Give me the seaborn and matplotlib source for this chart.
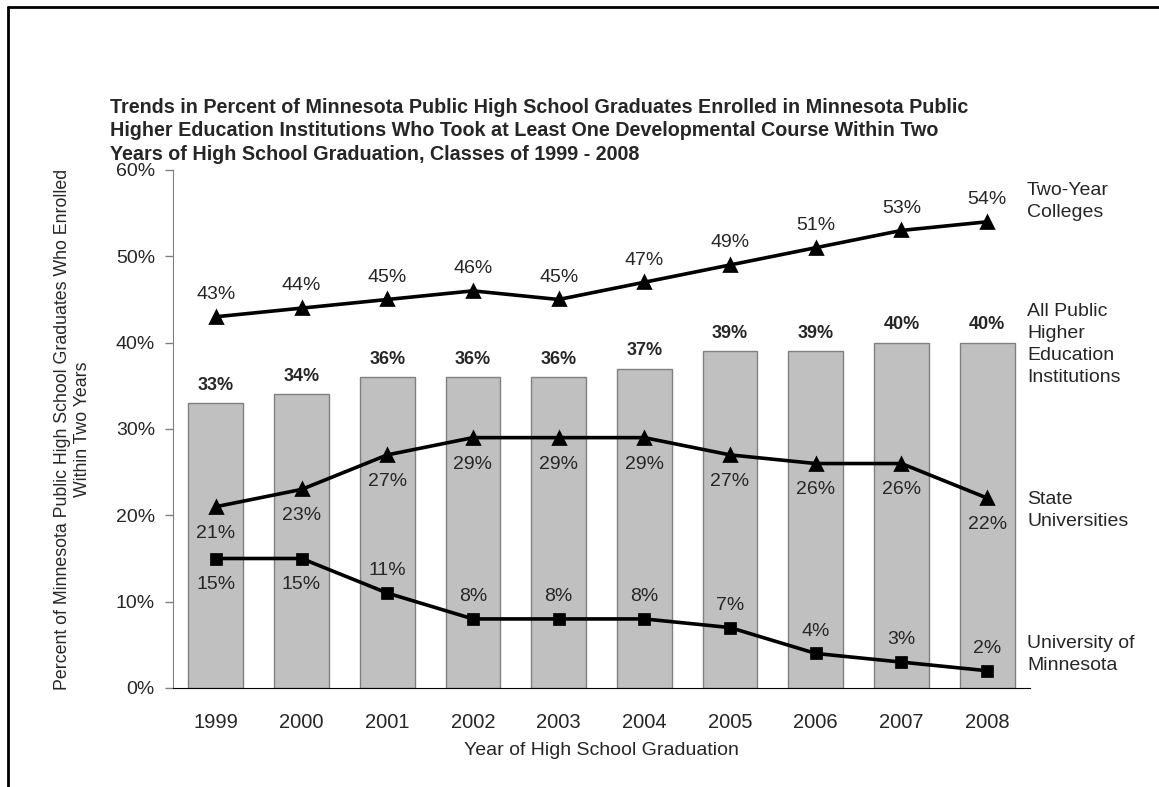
import matplotlib
matplotlib.use("Agg")
import matplotlib.pyplot as plt
from matplotlib.lines import Line2D
import numpy as np
import pandas as pd
import seaborn as sns

# Data
years = ['1999', '2000', '2001', '2002', '2003', '2004', '2005', '2006', '2007', '2008']
all_public = [33, 34, 36, 36, 36, 37, 39, 39, 40, 40]
two_year = [43, 44, 45, 46, 45, 47, 49, 51, 53, 54]
state_univ = [21, 23, 27, 29, 29, 29, 27, 26, 26, 22]
u_of_m = [15, 15, 11, 8, 8, 8, 7, 4, 3, 2]

# label placement for the line series: +1 above the point, -1 below
two_year_side = [1] * 10
state_side = [-1] * 10
u_of_m_side = [-1, -1, 1, 1, 1, 1, 1, 1, 1, 1]

series_names = ['Two-Year\nColleges', 'All Public\nHigher\nEducation\nInstitutions',
                'State\nUniversities', 'University of\nMinnesota']
series_label_y = [56.4, 39.8, 20.6, 3.9]

title = ('Trends in Percent of Minnesota Public High School Graduates Enrolled in Minnesota Public\n'
         'Higher Education Institutions Who Took at Least One Developmental Course Within Two\n'
         'Years of High School Graduation, Classes of 1999 - 2008')

df = pd.DataFrame({'Year': years, 'All': all_public, 'TwoYear': two_year,
                   'State': state_univ, 'UofM': u_of_m})

sns.set_style('white')
plt.rcParams['font.family'] = ['Liberation Sans', 'DejaVu Sans']

fig = plt.figure(figsize=(11.59, 7.87), dpi=100)
ax = fig.add_axes([173 / 1159, 1 - 688 / 787, 857 / 1159, 518 / 787])

sns.barplot(data=df, x='Year', y='All', color='#c0c0c0', saturation=1, width=0.64,
            edgecolor='#808080', linewidth=1, ax=ax)

sns.pointplot(data=df, x='Year', y='TwoYear', color='black', markers='^', markersize=8,
              linewidth=2.6, errorbar=None, ax=ax)
sns.pointplot(data=df, x='Year', y='State', color='black', markers='^', markersize=8,
              linewidth=2.6, errorbar=None, ax=ax)
sns.pointplot(data=df, x='Year', y='UofM', color='black', markers='s', markersize=7,
              linewidth=2.6, errorbar=None, ax=ax)

# value labels
for i, v in enumerate(all_public):
    ax.annotate(f'{v}%', (i, v), xytext=(0, 13), textcoords='offset points',
                ha='center', va='center', fontsize=13, fontweight='bold')
for vals, sides in [(two_year, two_year_side), (state_univ, state_side), (u_of_m, u_of_m_side)]:
    for i, (v, s) in enumerate(zip(vals, sides)):
        off = 16 if s > 0 else -19
        ax.annotate(f'{v}%', (i, v), xytext=(0, off), textcoords='offset points',
                    ha='center', va='center', fontsize=14)

# series names at the right
for name, y in zip(series_names, series_label_y):
    ax.text(9.465, y, name, ha='left', va='center', fontsize=14, linespacing=1.38,
            clip_on=False)

ax.set_ylim(0, 60)
ax.set_yticks(range(0, 61, 10))
ax.set_yticklabels([f'{t}%' for t in range(0, 61, 10)], fontsize=14)
ax.set_xlim(-0.5, len(years) - 0.5)
ax.set_xticks(range(len(years)))
ax.set_xticklabels(years, fontsize=14.5)
ax.set_xticks(np.arange(-0.5, len(years)), minor=True)
ax.tick_params(axis='x', which='major', length=0, pad=18)
ax.tick_params(axis='x', which='minor', length=8, width=1, color='black', direction='out')
ax.tick_params(axis='y', which='major', length=6, width=1, color='#808080', direction='out', pad=7, left=True)

sns.despine(ax=ax)
ax.spines['left'].set_color('#808080')
ax.spines['bottom'].set_color('black')

ax.set_xlabel('Year of High School Graduation', fontsize=14)
ax.xaxis.set_label_coords(0.5, -0.104)
ax.set_ylabel('Percent of Minnesota Public High School Graduates Who Enrolled\nWithin Two Years',
              fontsize=12.8)
ax.yaxis.set_label_coords(-0.096, 0.5)

fig.text(110 / 1159, 1 - 98 / 787, title, ha='left', va='top', fontsize=14.2,
         fontweight='bold', linespacing=1.3)

# frame lines at top and left of the picture
fig.add_artist(Line2D([8 / 1159, 1], [1 - 7 / 787, 1 - 7 / 787], color='black', lw=2))
fig.add_artist(Line2D([8 / 1159, 8 / 1159], [0, 1 - 7 / 787], color='black', lw=2))

fig.savefig('out.png', dpi=100)
